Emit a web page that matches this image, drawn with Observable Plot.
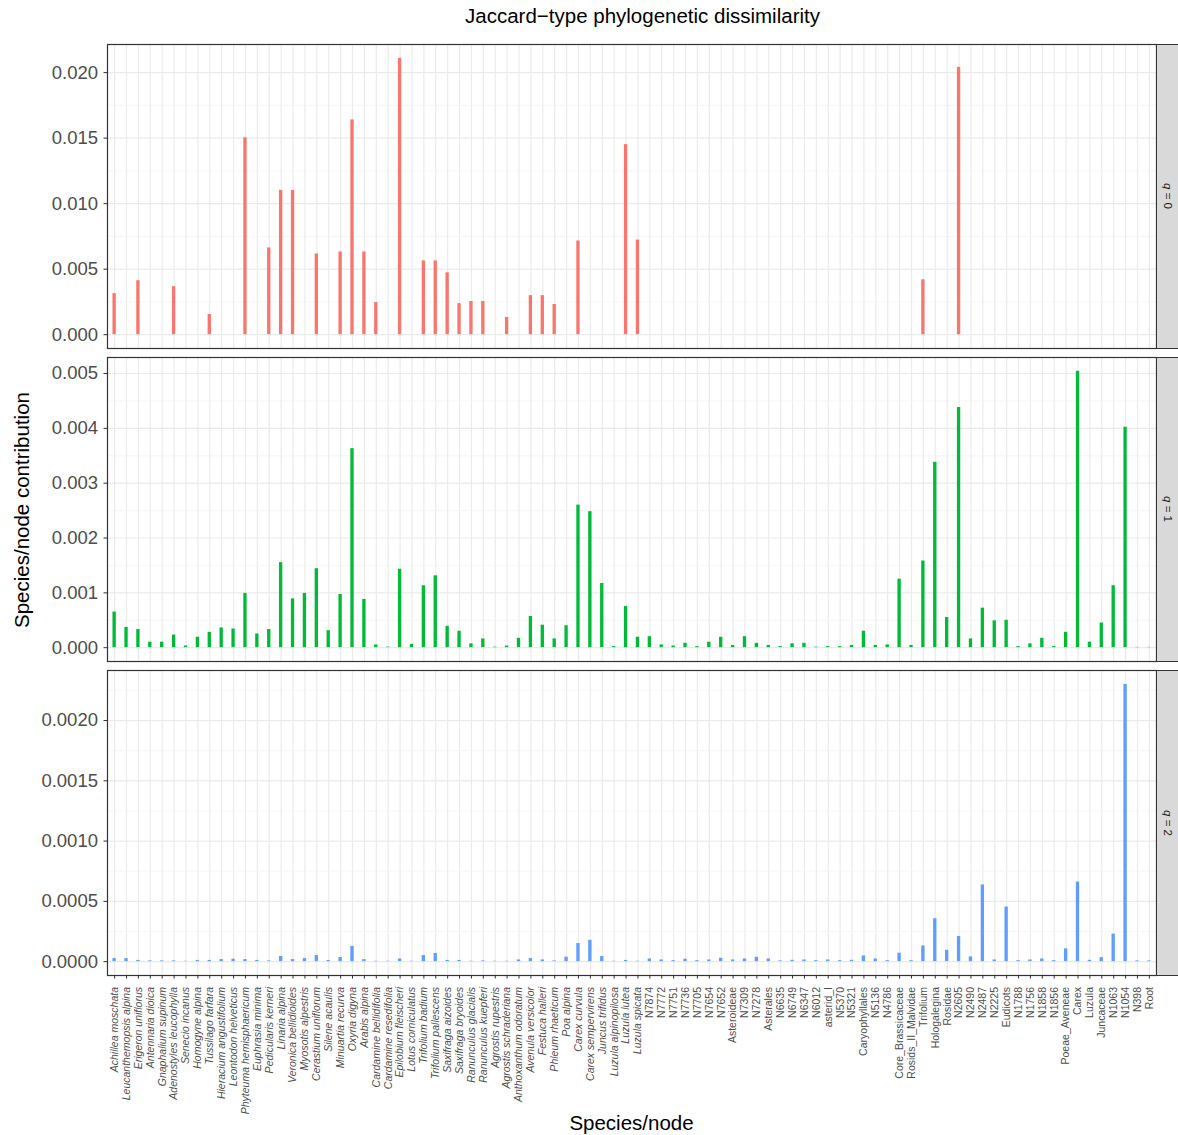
<!DOCTYPE html>
<html><head><meta charset="utf-8">
<script src="https://cdn.jsdelivr.net/npm/d3@7"></script>
<script src="https://cdn.jsdelivr.net/npm/@observablehq/plot@0.6"></script>
<style>
body{margin:0;background:#fff;font-family:"Liberation Sans",Arial,Helvetica,sans-serif;}
#root{position:relative;width:1178px;height:1135px;overflow:hidden;background:#fff;}
.abs{position:absolute;}
.strip{position:absolute;background:#D9D9D9;border:1px solid #333;box-sizing:border-box;}
.striptext{position:absolute;white-space:nowrap;font-size:11.5px;color:#1A1A1A;transform:translate(-50%,-50%) rotate(90deg);}
</style></head><body><div id="root"></div>
<script>
const species = ["Achillea moschata","Leucanthemopsis alpina","Erigeron uniflorus","Antennaria dioica","Gnaphalium supinum","Adenostyles leucophylla","Senecio incanus","Homogyne alpina","Tussilago farfara","Hieracium angustifolium","Leontodon helveticus","Phyteuma hemisphaericum","Euphrasia minima","Pedicularis kerneri","Linaria alpina","Veronica bellidioides","Myosotis alpestris","Cerastium uniflorum","Silene acaulis","Minuartia recurva","Oxyria digyna","Arabis alpina","Cardamine bellidifolia","Cardamine resedifolia","Epilobium fleischeri","Lotus corniculatus","Trifolium badium","Trifolium pallescens","Saxifraga aizoides","Saxifraga bryoides","Ranunculus glacialis","Ranunculus kuepferi","Agrostis rupestris","Agrostis schraderiana","Anthoxanthum odoratum","Avenula versicolor","Festuca halleri","Phleum rhaeticum","Poa alpina","Carex curvula","Carex sempervirens","Juncus trifidus","Luzula alpinopilosa","Luzula lutea","Luzula spicata"];
const nodes = ["N7874","N7772","N7751","N7736","N7705","N7654","N7652","Asteroideae","N7309","N7278","Asterales","N6635","N6749","N6347","N6012","asterid_I","N5370","N5321","Caryophyllales","N5136","N4786","Core_Brassicaceae","Rosids_II_Malvidae","Trifolium","Hologalegina","Rosidae","N2605","N2490","N2487","N2225","Eudicots","N1788","N1756","N1858","N1856","Poeae_Aveneae","Carex","Luzula","Juncaceae","N1063","N1054","N398","Root"];
const categories = species.concat(nodes);

const q0Values = [
  0.00313, 0, 0.00412, 0, 0, 0.00366, 0, 0, 0.00154, 0,
  0, 0.01503, 0, 0.00662, 0.01101, 0.01101, 0, 0.00616, 0, 0.00631,
  0.01639, 0.00631, 0.00245, 0, 0.02109, 0, 0.00563, 0.00563, 0.00472, 0.00237,
  0.00253, 0.00253, 0, 0.00131, 0, 0.00298, 0.00298, 0.0023, 0, 0.00715,
  0, 0, 0, 0.0145, 0.00722, 0, 0, 0, 0, 0,
  0, 0, 0, 0, 0, 0, 0, 0, 0, 0,
  0, 0, 0, 0, 0, 0, 0, 0, 0.00419, 0,
  0, 0.0204, 0, 0, 0, 0, 0, 0, 0, 0,
  0, 0, 0, 0, 0, 0, 0, 0
];
const q1Values = [
  0.00065, 0.00037, 0.00033, 0.0001, 0.0001, 0.00023, 0.00003, 0.00019, 0.00028, 0.00036,
  0.00034, 0.00099, 0.00025, 0.00033, 0.00155, 0.00089, 0.00099, 0.00144, 0.00031, 0.00097,
  0.00363, 0.00088, 0.00005, 0.00001, 0.00143, 0.00006, 0.00113, 0.00131, 0.00039, 0.0003,
  0.00007, 0.00016, 0.00001, 0.00003, 0.00017, 0.00057, 0.00041, 0.00016, 0.0004, 0.0026,
  0.00248, 0.00117, 0.00002, 0.00075, 0.00019, 0.0002, 0.00005, 0.00003, 0.00008, 0.00002,
  0.0001, 0.00019, 0.00004, 0.0002, 0.00008, 0.00004, 0.00002, 0.00007, 0.00008, 0.00001,
  0.00002, 0.00002, 0.00004, 0.0003, 0.00004, 0.00005, 0.00125, 0.00004, 0.00158, 0.00338,
  0.00055, 0.00438, 0.00016, 0.00072, 0.00049, 0.0005, 0.00002, 0.00007, 0.00017, 0.00002,
  0.00028, 0.00504, 0.0001, 0.00045, 0.00113, 0.00402, 0.000005, 0.000005
];
const q2Values = [
  0.000025, 0.000025, 0.00001, 0.000006, 0.000006, 0.000006, 0.000003, 0.00001, 0.00001, 0.000017,
  0.00002, 0.000017, 0.00001, 0.000006, 0.000042, 0.000017, 0.000025, 0.00005, 0.00001, 0.000034,
  0.000126, 0.000017, 0.000003, 0.000003, 0.000022, 0.000003, 0.00005, 0.000067, 0.00001, 0.00001,
  0.000003, 0.000006, 0.000003, 0.000003, 0.000014, 0.000025, 0.000014, 0.000006, 0.000037, 0.00015,
  0.000177, 0.000042, 0.000003, 0.00001, 0.000003, 0.000022, 0.000014, 0.000008, 0.00002, 0.000008,
  0.000014, 0.000028, 0.000014, 0.000022, 0.000036, 0.000022, 0.000006, 0.000011, 0.000014, 0.000008,
  0.000014, 0.000008, 0.000011, 0.000047, 0.000022, 0.000008, 0.00007, 0.000008, 0.00013, 0.000356,
  0.000094, 0.000208, 0.000039, 0.000636, 0.000014, 0.000453, 0.000008, 0.000014, 0.000022, 0.000008,
  0.000106, 0.00066, 0.000011, 0.000033, 0.000228, 0.0023, 0.000006, 0.000006
];

const panelLabels = ["q = 0", "q = 1", "q = 2"];
const yTicks0 = [0, 0.005, 0.010, 0.015, 0.020];
const yTicks1 = [0, 0.001, 0.002, 0.003, 0.004, 0.005];
const yTicks2 = [0, 0.0005, 0.0010, 0.0015, 0.0020];
const seriesColors = ["#F8766D", "#00BA38", "#619CFF"];

const titleText = "Jaccard\u2212type phylogenetic dissimilarity";
const xTitle = "Species/node";
const yTitle = "Species/node contribution";

const FONT = '"Liberation Sans", Arial, Helvetica, sans-serif';
const root = document.getElementById("root");
const W = 1178, ML = 107, MR = 22;

function minorOf(ticks) {
  const step = ticks[1] - ticks[0];
  return ticks.map(t => t + step / 2);
}

function makePanel(values, ticks, fmt, color, top, height, mTop, mBottom, withX, label) {
  const data = categories.map((c, i) => ({cat: c, value: values[i]}));
  const max = d3.max(values);
  const pad = 0.05 * max;
  const dom = [-pad, max + pad];
  const minor = minorOf(ticks).filter(t => t < dom[1]);
  const marks = [
    Plot.gridX({stroke: "#EBEBEB", strokeOpacity: 1, strokeWidth: 1.2}),
    Plot.gridY(minor, {stroke: "#F2F2F2", strokeOpacity: 1, strokeWidth: 0.7}),
    Plot.gridY(ticks, {stroke: "#EBEBEB", strokeOpacity: 1, strokeWidth: 1.2}),
    Plot.barY(data, {x: "cat", y: "value", fill: color}),
    Plot.frame({stroke: "#333333", strokeWidth: 1.2}),
    Plot.axisY(ticks, {tickFormat: d3.format(fmt), fontSize: 18.5, color: "#4D4D4D", stroke: "#333333", tickSize: 3.5, tickPadding: 6, label: null})
  ];
  if (withX) {
    marks.push(Plot.axisX(species, {tickRotate: -90, fontStyle: "italic", fontSize: 10.5, color: "#4D4D4D", stroke: "#333333", tickSize: 3.5, tickPadding: 8, label: null}));
    marks.push(Plot.axisX(nodes, {tickRotate: -90, fontSize: 10.5, color: "#4D4D4D", stroke: "#333333", tickSize: 3.5, tickPadding: 8, label: null}));
  }
  const svg = Plot.plot({
    width: W, height, marginLeft: ML, marginRight: MR, marginTop: mTop, marginBottom: mBottom,
    style: {fontFamily: FONT, background: "transparent", overflow: "visible"},
    x: {type: "band", domain: categories, paddingInner: 0.72, paddingOuter: 0.46, axis: null},
    y: {domain: dom, axis: null},
    marks
  });
  svg.style.position = "absolute";
  svg.style.left = "0px";
  svg.style.top = top + "px";
  root.appendChild(svg);

  // facet strip
  const pTop = top + mTop, pH = height - mTop - mBottom;
  const strip = document.createElement("div");
  strip.className = "strip";
  strip.style.left = (W - MR - 0.5) + "px";
  strip.style.top = (pTop - 0.5) + "px";
  strip.style.width = (MR + 3) + "px";
  strip.style.height = (pH + 1) + "px";
  root.appendChild(strip);
  const st = document.createElement("div");
  st.className = "striptext";
  st.style.left = (W - MR / 2 + 0.5) + "px";
  st.style.top = (pTop + pH / 2) + "px";
  const parts = label.split(" ");
  st.innerHTML = "<i>" + parts[0] + "</i> " + parts.slice(1).join(" ");
  root.appendChild(st);
}

makePanel(q0Values, yTicks0, ".3f", seriesColors[0], 0, 349, 44, 1, false, panelLabels[0]);
makePanel(q1Values, yTicks1, ".3f", seriesColors[1], 349, 313, 8, 1, false, panelLabels[1]);
makePanel(q2Values, yTicks2, ".4f", seriesColors[2], 662, 473, 8, 160, true, panelLabels[2]);

function addText(txt, css) {
  const d = document.createElement("div");
  d.className = "abs";
  d.textContent = txt;
  Object.assign(d.style, css);
  root.appendChild(d);
}
addText(titleText, {left: ML + "px", width: (W - ML) + "px", top: "5px", textAlign: "center", fontSize: "20.5px", lineHeight: "22px", color: "#000"});
addText(xTitle, {left: ML + "px", width: (W - ML - MR) + "px", top: "1112px", textAlign: "center", fontSize: "20.5px", lineHeight: "22px", color: "#000"});
addText(yTitle, {left: (22 - 300) + "px", width: "600px", top: (509.5 - 11) + "px", textAlign: "center", fontSize: "20.5px", lineHeight: "22px", color: "#000", transform: "rotate(-90deg)", transformOrigin: "50% 50%"});
</script>
</body></html>
